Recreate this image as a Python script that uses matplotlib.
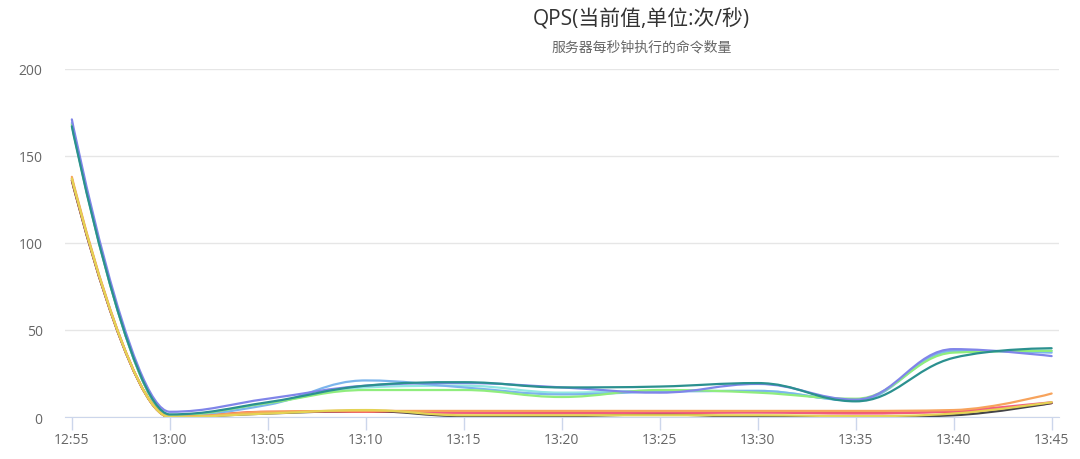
import matplotlib.pyplot as plt
from matplotlib.path import Path
from matplotlib.patches import PathPatch

plt.rcParams['font.family'] = ['Noto Sans CJK SC', 'DejaVu Sans']

minutes = [0, 5, 10, 15, 20, 25, 30, 35, 40, 45, 50]
tick_labels = ["12:55", "13:00", "13:05", "13:10", "13:15", "13:20",
               "13:25", "13:30", "13:35", "13:40", "13:45"]

blue = [169, 1, 7, 21, 17, 13, 14.5, 15, 9.5, 38, 37]
black = [136, 0, 2, 3.5, 0.5, 0.5, 1.5, 0, 0, 1, 8]
green = [168, 1, 8, 15.5, 15.5, 11.5, 15.5, 14, 10.5, 37, 38]
orange = [138, 0, 3, 3.5, 3.5, 3.5, 3.5, 3.5, 3.5, 4, 13.5]
purple = [171, 3, 10.5, 18, 19.5, 17, 14, 19, 10, 39, 35]
pink = [137, 0, 2.5, 3.5, 2.5, 2, 2.5, 2.5, 2, 3.5, 8.5]
yellow = [137, 0, 2, 4, 1, 1, 1, 1, 0.5, 2, 8.5]
teal = [167, 1.5, 8.5, 18, 20, 17, 17.5, 19.5, 9, 34, 39.5]
red = [136, 0, 3, 3, 2.5, 2.5, 2, 3, 2.5, 3, 8]
cyan = [168, 1, 8, 17, 18, 14, 15, 15, 9.5, 37.5, 38]

# drawing order: last one ends up on top
series = [cyan, red, blue, black, green, pink, orange, purple, yellow, teal]
colors = ['#91e8e1', '#f45b5b', '#7cb5ec', '#434348', '#90ed7d',
          '#f15c80', '#f7a35c', '#8085e9', '#e4d354', '#2b908f']


# highcharts style spline -> bezier path
def spline_path(xs, ys, smoothing=1.5):
    n = len(xs)
    denom = smoothing + 1
    left = [(xs[0], ys[0])] * n
    right = [(xs[-1], ys[-1])] * n
    for i in range(n):
        if i == 0 or i == n - 1:
            left[i] = right[i] = (xs[i], ys[i])
            continue
        px, py = xs[i], ys[i]
        lx = (smoothing * px + xs[i - 1]) / denom
        ly = (smoothing * py + ys[i - 1]) / denom
        rx = (smoothing * px + xs[i + 1]) / denom
        ry = (smoothing * py + ys[i + 1]) / denom
        corr = (ry - ly) * (rx - px) / (rx - lx) + py - ry
        ly += corr
        ry += corr
        if ly > ys[i - 1] and ly > py:
            ly = max(ys[i - 1], py)
            ry = 2 * py - ly
        elif ly < ys[i - 1] and ly < py:
            ly = min(ys[i - 1], py)
            ry = 2 * py - ly
        if ry > ys[i + 1] and ry > py:
            ry = max(ys[i + 1], py)
            ly = 2 * py - ry
        elif ry < ys[i + 1] and ry < py:
            ry = min(ys[i + 1], py)
            ly = 2 * py - ry
        left[i] = (lx, ly)
        right[i] = (rx, ry)
    verts = [(xs[0], ys[0])]
    codes = [Path.MOVETO]
    for i in range(1, n):
        verts += [right[i - 1], left[i], (xs[i], ys[i])]
        codes += [Path.CURVE4] * 3
    return Path(verts, codes)


fig = plt.figure(figsize=(10.8, 4.6), dpi=100)
ax = fig.add_axes([0.060, 0.0913, 0.921, 0.7567])

for vals, c in zip(series, colors):
    ax.add_patch(PathPatch(spline_path(minutes, vals), fill=False,
                           edgecolor=c, lw=1.6, capstyle='round'))

ax.set_xlim(-0.36, 50.4)
ax.set_ylim(0, 200)
ax.set_yticks([0, 50, 100, 150, 200])
ax.set_xticks(minutes)
ax.set_xticklabels(tick_labels)

ax.grid(axis='y', color='#e6e6e6', lw=1)
ax.set_axisbelow(True)
for s in ['top', 'right', 'left']:
    ax.spines[s].set_visible(False)
ax.spines['bottom'].set_color('#ccd6eb')
ax.tick_params(axis='x', colors='#ccd6eb', length=9, width=1,
               labelcolor='#666666', labelsize=10, pad=2)
ax.tick_params(axis='y', length=0, labelcolor='#666666', labelsize=10, pad=16)
for lab in ax.get_xticklabels() + ax.get_yticklabels():
    lab.set_family(['Open Sans', 'DejaVu Sans'])

fig.text(0.594, 0.956, "QPS(当前值,单位:次/秒)", ha='center', va='center',
         fontsize=15, color='#333333',
         family=['Open Sans', 'Noto Sans CJK SC'])
fig.text(0.594, 0.897, "服务器每秒钟执行的命令数量", ha='center', va='center',
         fontsize=10, color='#666666')

fig.savefig("out.png")
